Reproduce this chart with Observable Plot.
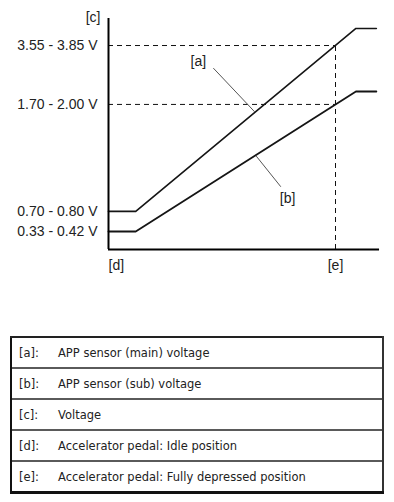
<!DOCTYPE html>
<html>
<head>
<meta charset="utf-8">
<script src="https://cdn.jsdelivr.net/npm/d3@7"></script>
<script src="https://cdn.jsdelivr.net/npm/@observablehq/plot@0.6"></script>
<style>
  html, body { margin: 0; padding: 0; background: #fff; }
  #chart { position: absolute; left: 0; top: 0; }
  #legend { position: absolute; left: 10px; top: 336px; width: 374px; border-collapse: collapse;
    font-family: "DejaVu Sans", Verdana, sans-serif; font-size: 11.5px; color: #222; }
  #legend td { height: 29px; padding: 0; border-top: 2px solid #5a5a5a; vertical-align: middle; }
  #legend tr:first-child td { border-top: 2px solid #222; }
  #legend tr:last-child td { border-bottom: 3px solid #111; }
  #legend td.k { width: 39px; padding-left: 7px; border-left: 2px solid #111; }
  #legend td.v { border-right: 2px solid #333; }
</style>
</head>
<body>
<div id="chart"></div>
<table id="legend"></table>
<script>
// Pedal position (% of travel, [e] = 100) and schematic output level (0–100 of axis height)
const pedal = [0, 12, 109, 118];
const mainLevel = [16.5, 16.5, 95.7, 95.7];
const subLevel = [7.8, 7.8, 68.4, 68.4];

const yTickLevels = [7.8, 16.5, 62.8, 88.3];
const yTickLabels = ["0.33 - 0.42 V", "0.70 - 0.80 V", "1.70 - 2.00 V", "3.55 - 3.85 V"];
const dashedLevels = [62.8, 88.3];

const xTickPos = [0, 100];
const xTickLabels = ["[d]", "[e]"];
const fullPos = 100;

const leaderA = {x: [46.3, 64.3], y: [78.4, 59.7]};
const leaderB = {x: [65.2, 75.8], y: [40.3, 27.3]};
const seriesLabels = [{x: 39.6, y: 81.4, t: "[a]"}, {x: 78.9, y: 22.1, t: "[b]"}];

const legendKeys = ["[a]:", "[b]:", "[c]:", "[d]:", "[e]:"];
const legendTexts = ["APP sensor (main) voltage", "APP sensor (sub) voltage", "Voltage",
  "Accelerator pedal: Idle position", "Accelerator pedal: Fully depressed position"];

const mainData = pedal.map((p, i) => ({x: p, y: mainLevel[i]}));
const subData = pedal.map((p, i) => ({x: p, y: subLevel[i]}));
const ticks = yTickLevels.map((v, i) => ({y: v, label: yTickLabels[i]}));
const toPts = o => o.x.map((x, i) => ({x, y: o.y[i]}));

const font = "'Liberation Sans', Arial, sans-serif";

const chart = Plot.plot({
  width: 394,
  height: 300,
  marginLeft: 108,
  marginRight: 13.6,
  marginTop: 18,
  marginBottom: 51,
  x: {domain: [0, 120], axis: null},
  y: {domain: [0, 100], axis: null},
  style: {fontFamily: font, fontSize: "14px", background: "#fff", color: "#222", overflow: "visible"},
  marks: [
    Plot.ruleY(dashedLevels, {y: d => d, x1: 0, x2: fullPos, stroke: "#111", strokeWidth: 1, strokeDasharray: "5,4"}),
    Plot.ruleX([fullPos], {x: d => d, y1: 0, y2: dashedLevels[1], stroke: "#111", strokeWidth: 1, strokeDasharray: "5,4"}),
    Plot.line(mainData, {x: "x", y: "y", stroke: "#151515", strokeWidth: 1.6}),
    Plot.line(subData, {x: "x", y: "y", stroke: "#151515", strokeWidth: 1.8}),
    Plot.line(toPts(leaderA), {x: "x", y: "y", stroke: "#555", strokeWidth: 1}),
    Plot.line(toPts(leaderB), {x: "x", y: "y", stroke: "#555", strokeWidth: 1}),
    Plot.text(seriesLabels, {x: "x", y: "y", text: "t", fontSize: 14, fill: "#222"}),
    Plot.ruleX([0], {x: d => d, y1: 0, y2: 100, stroke: "#000", strokeWidth: 2}),
    Plot.ruleY([0], {y: d => d, x1: 0, x2: 119.4, stroke: "#000", strokeWidth: 2}),
    Plot.text(ticks, {x: 0, y: "y", text: "label", textAnchor: "end", dx: -11, fontSize: 14, fill: "#222"}),
    Plot.text(["[c]"], {x: 0, y: 100, text: d => d, textAnchor: "end", dx: -8, dy: -1, fontSize: 14, fill: "#222"}),
    Plot.text([xTickLabels[0]], {x: xTickPos[0], y: 0, text: d => d, textAnchor: "start", dy: 16, fontSize: 14, fill: "#222"}),
    Plot.text([xTickLabels[1]], {x: xTickPos[1], y: 0, text: d => d, textAnchor: "middle", dy: 16, fontSize: 14, fill: "#222"})
  ]
});
document.getElementById("chart").appendChild(chart);

const table = document.getElementById("legend");
legendKeys.forEach((k, i) => {
  const tr = document.createElement("tr");
  const a = document.createElement("td"); a.className = "k"; a.textContent = k;
  const b = document.createElement("td"); b.className = "v"; b.textContent = legendTexts[i];
  tr.appendChild(a); tr.appendChild(b); table.appendChild(tr);
});
</script>
</body>
</html>
